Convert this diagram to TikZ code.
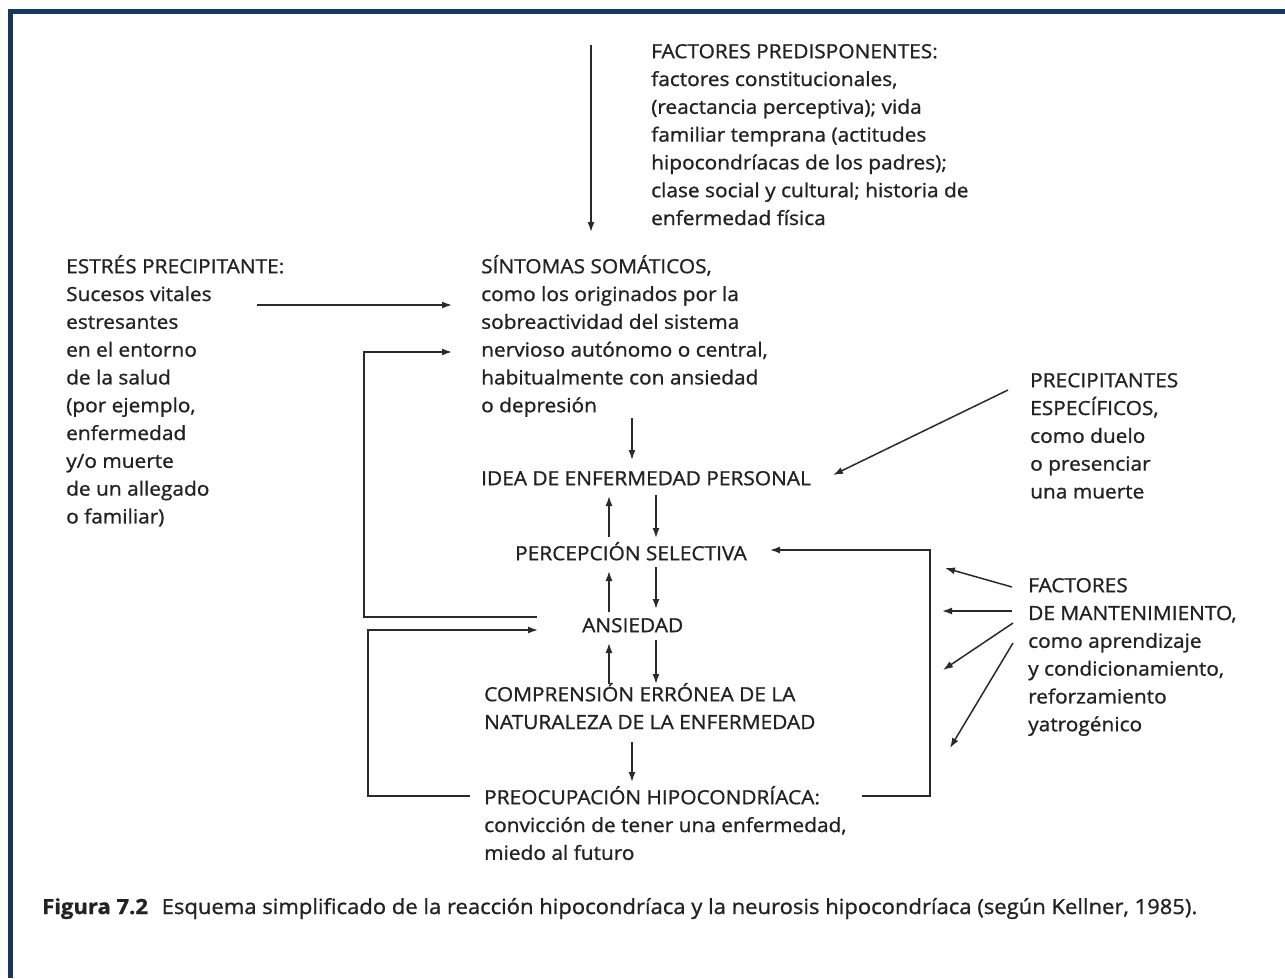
\documentclass[tikz,border=0pt]{standalone}
\usepackage{fontspec}
\setmainfont[FakeBold=1.0,FakeStretch=1.07]{Open Sans}
\usetikzlibrary{arrows.meta,calc}
\definecolor{txtc}{HTML}{222222}
\definecolor{lnc}{HTML}{2A2A2A}
\definecolor{framec}{HTML}{17375E}
\newcommand\mystrut{\rule{0pt}{20pt}}
\begin{document}
\begin{tikzpicture}[x=1pt,y=-1pt,
  lbl/.style={font=\fontsize{19.5}{27.8}\selectfont, align=left, inner sep=0pt, anchor=north west, text=txtc},
  arr/.style={draw=lnc, line width=1.5pt, -{Latex[length=10pt,width=7pt]}},
  lnk/.style={draw=lnc, line width=1.5pt}]
\useasboundingbox (0,0) rectangle (1285,978);
\fill[white] (0,0) rectangle (1285,978);
\fill[framec] (8,9) rectangle (1285,14);
\fill[framec] (8,9) rectangle (13,978);

% text blocks
\node[lbl] (pred) at (651,38) {\mystrut FACTORES PREDISPONENTES:\\ factores constitucionales,\\ (reactancia perceptiva); vida\\ familiar temprana (actitudes\\ hipocondríacas de los padres);\\ clase social y cultural; historia de\\ enfermedad física};
\node[lbl] (estres) at (66,253) {\mystrut ESTRÉS PRECIPITANTE:\\ Sucesos vitales\\ estresantes\\ en el entorno\\ de la salud\\ (por ejemplo,\\ enfermedad\\ y/o muerte\\ de un allegado\\ o familiar)};
\node[lbl] (sint) at (481,253) {\mystrut SÍNTOMAS SOMÁTICOS,\\ como los originados por la\\ sobreactividad del sistema\\ nervioso autónomo o central,\\ habitualmente con ansiedad\\ o depresión};
\node[lbl] (idea) at (481,465) {\mystrut IDEA DE ENFERMEDAD PERSONAL};
\node[lbl] (perc) at (515,540) {\mystrut PERCEPCIÓN SELECTIVA};
\node[lbl] (ans) at (582,612) {\mystrut ANSIEDAD};
\node[lbl] (comp) at (484,681) {\mystrut COMPRENSIÓN ERRÓNEA DE LA\\ NATURALEZA DE LA ENFERMEDAD};
\node[lbl] (preo) at (484,784) {\mystrut PREOCUPACIÓN HIPOCONDRÍACA:\\ convicción de tener una enfermedad,\\ miedo al futuro};
\node[lbl] (espec) at (1030,367) {\mystrut PRECIPITANTES\\ ESPECÍFICOS,\\ como duelo\\ o presenciar\\ una muerte};
\node[lbl] (mant) at (1028,572) {\mystrut FACTORES\\ DE MANTENIMIENTO,\\ como aprendizaje\\ y condicionamiento,\\ reforzamiento\\ yatrogénico};
\node[anchor=base west, inner sep=0pt, text=txtc] (cap) at (42,914)
  {\resizebox{1155pt}{16pt}{\fontsize{18}{20}\selectfont\textbf{Figura 7.2}\hspace{12pt}Esquema simplificado de la reacción hipocondríaca y la neurosis hipocondríaca (según Kellner, 1985).}};

% coordinates
\coordinate (p0) at (591,45);   \coordinate (p1) at (591,232);
\coordinate (s0) at (257,305);  \coordinate (s1) at (452,305);
\coordinate (a0) at (537,617);  \coordinate (a1) at (364,617); \coordinate (a2) at (364,352); \coordinate (a3) at (452,352);
\coordinate (b0) at (470,796);  \coordinate (b1) at (368,796); \coordinate (b2) at (368,630); \coordinate (b3) at (538,630);
\coordinate (r0) at (862,796);  \coordinate (r1) at (930,796); \coordinate (r2) at (930,550); \coordinate (r3) at (770,550);
\coordinate (v0) at (632,418);  \coordinate (v1) at (632,460);
\coordinate (u1a) at (609,537); \coordinate (u1b) at (609,496);
\coordinate (d1a) at (656,495); \coordinate (d1b) at (656,538);
\coordinate (u2a) at (609,612); \coordinate (u2b) at (609,571);
\coordinate (d2a) at (656,567); \coordinate (d2b) at (656,609);
\coordinate (u3a) at (609,684); \coordinate (u3b) at (609,643);
\coordinate (d3a) at (656,640); \coordinate (d3b) at (656,684);
\coordinate (w0) at (632,742);  \coordinate (w1) at (632,782);
\coordinate (e0) at (1008,390); \coordinate (e1) at (833,475);
\coordinate (m0) at (1012,587); \coordinate (m0t) at (945,568);
\coordinate (m1) at (1012,611); \coordinate (m1t) at (942,611);
\coordinate (m2) at (1013,623); \coordinate (m2t) at (943,670);
\coordinate (m3) at (1013,643); \coordinate (m3t) at (950,748);

% connectors
\draw[arr] (p0) -- (p1);
\draw[arr] (s0) -- (s1);
\draw[arr] (a0) -- (a1) -- (a2) -- (a3);
\draw[arr] (b0) -- (b1) -- (b2) -- (b3);
\draw[arr] (r0) -- (r1) -- (r2) -- (r3);
\draw[arr] (v0) -- (v1);
\draw[arr] (u1a) -- (u1b);
\draw[arr] (d1a) -- (d1b);
\draw[arr] (u2a) -- (u2b);
\draw[arr] (d2a) -- (d2b);
\draw[arr] (u3a) -- (u3b);
\draw[arr] (d3a) -- (d3b);
\draw[arr] (w0) -- (w1);
\draw[arr] (e0) -- (e1);
\draw[arr] (m0) -- (m0t);
\draw[arr] (m1) -- (m1t);
\draw[arr] (m2) -- (m2t);
\draw[arr] (m3) -- (m3t);
\end{tikzpicture}
\end{document}
